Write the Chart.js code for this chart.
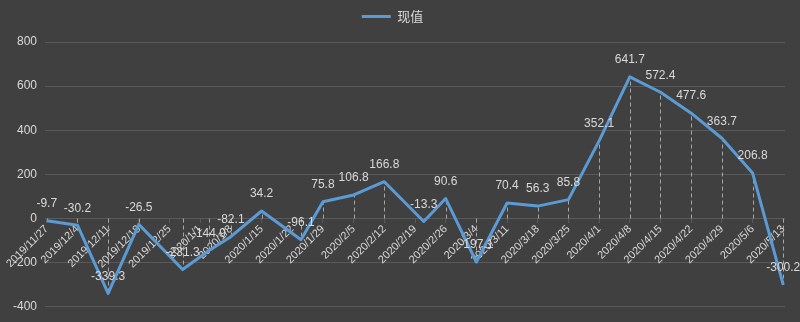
<!DOCTYPE html>
<html>
<head>
<meta charset="utf-8">
<script src="https://cdn.jsdelivr.net/npm/chart.js@4.4.0/dist/chart.umd.min.js"></script>
<style>
  html, body { margin: 0; padding: 0; background: #404040; }
  #wrap { width: 800px; height: 322px; }
</style>
</head>
<body>
<div id="wrap"><canvas id="value-chart"></canvas></div>
<script>
// 现值 weekly series, some points fall between the weekly ticks
const seriesName = '现值';
const dates = [
  '2019/11/27', '2019/12/4', '2019/12/11', '2019/12/18', '2019/12/28',
  '2020/1/3', '2020/1/8', '2020/1/15', '2020/1/24', '2020/1/29',
  '2020/2/5', '2020/2/12', '2020/2/21', '2020/2/26', '2020/3/4',
  '2020/3/11', '2020/3/18', '2020/3/25', '2020/4/1', '2020/4/8',
  '2020/4/15', '2020/4/22', '2020/4/29', '2020/5/6', '2020/5/13'
];
const values = [
  -9.7, -30.2, -339.3, -26.5, -231.3,
  -144.9, -82.1, 34.2, -96.1, 75.8,
  106.8, 166.8, -13.3, 90.6, -197.1,
  70.4, 56.3, 85.8, 352.1, 641.7,
  572.4, 477.6, 363.7, 206.8, -300.2
];
const tickLabels = [
  '2019/11/27', '2019/12/4', '2019/12/11', '2019/12/18', '2019/12/25',
  '2020/1/1', '2020/1/8', '2020/1/15', '2020/1/22', '2020/1/29',
  '2020/2/5', '2020/2/12', '2020/2/19', '2020/2/26', '2020/3/4',
  '2020/3/11', '2020/3/18', '2020/3/25', '2020/4/1', '2020/4/8',
  '2020/4/15', '2020/4/22', '2020/4/29', '2020/5/6', '2020/5/13'
];

const lineColor = '#5b9bd5';
const textColor = '#d9d9d9';
const gridColor = '#595959';

// days since the first tick date
function dayOf(s) {
  const p = s.split('/').map(Number);
  const p0 = tickLabels[0].split('/').map(Number);
  return (Date.UTC(p[0], p[1] - 1, p[2]) - Date.UTC(p0[0], p0[1] - 1, p0[2])) / 86400000;
}
const points = dates.map((d, i) => ({ x: dayOf(d), y: values[i] }));
const lastDay = dayOf(tickLabels[tickLabels.length - 1]);

// dashed drop lines to zero + value labels above each point
const valueLabels = {
  id: 'valueLabels',
  beforeDatasetsDraw(chart) {
    const ctx = chart.ctx;
    const zero = chart.scales.y.getPixelForValue(0);
    ctx.save();
    ctx.strokeStyle = '#a6a6a6';
    ctx.lineWidth = 1;
    ctx.setLineDash([4, 3]);
    chart.getDatasetMeta(0).data.forEach(p => {
      ctx.beginPath();
      ctx.moveTo(Math.round(p.x) + 0.5, zero);
      ctx.lineTo(Math.round(p.x) + 0.5, p.y);
      ctx.stroke();
    });
    ctx.restore();
  },
  afterDatasetsDraw(chart) {
    const ctx = chart.ctx;
    ctx.save();
    ctx.font = '12px "Liberation Sans", sans-serif';
    ctx.fillStyle = textColor;
    ctx.textAlign = 'center';
    ctx.textBaseline = 'middle';
    chart.getDatasetMeta(0).data.forEach((p, i) => {
      ctx.fillText(values[i].toFixed(1), p.x, p.y - 17);
    });
    ctx.restore();
  }
};

const ctx = document.getElementById('value-chart').getContext('2d');
new Chart(ctx, {
  type: 'line',
  data: {
    datasets: [{
      label: seriesName,
      data: points,
      borderColor: lineColor,
      backgroundColor: lineColor,
      borderWidth: 3,
      pointRadius: 0,
      borderJoinStyle: 'round',
      tension: 0
    }]
  },
  options: {
    responsive: true,
    maintainAspectRatio: false,
    animation: false,
    layout: { padding: { left: 0, right: 15, top: 0, bottom: 14 } },
    plugins: {
      legend: {
        display: true,
        position: 'top',
        labels: {
          color: textColor,
          font: { size: 13, family: '"Noto Sans CJK SC", sans-serif' },
          usePointStyle: true,
          pointStyle: 'line',
          pointStyleWidth: 29,
          padding: 10
        }
      },
      tooltip: { enabled: false }
    },
    scales: {
      x: {
        type: 'linear',
        position: { y: 0 },
        min: -0.4,
        max: lastDay + 0.4,
        afterBuildTicks(scale) {
          scale.ticks = tickLabels.map(t => ({ value: dayOf(t) }));
        },
        afterFit(scale) {
          scale.height = 0;
          scale.paddingLeft = 0;
          scale.paddingRight = 0;
        },
        grid: { drawOnChartArea: false, color: gridColor, tickLength: 4 },
        border: { display: false },
        ticks: {
          color: textColor,
          font: { size: 11, family: '"Liberation Sans", sans-serif' },
          minRotation: 45,
          maxRotation: 45,
          autoSkip: false,
          padding: 0,
          callback: (v) => tickLabels.find(t => dayOf(t) === v) || ''
        }
      },
      // empty band between legend and plot
      gap: {
        type: 'linear',
        axis: 'x',
        position: 'top',
        grid: { display: false },
        border: { display: false },
        ticks: { display: false },
        afterFit(scale) { scale.height = 9; }
      },
      y: {
        min: -400,
        max: 800,
        afterFit(scale) { scale.width = 45; },
        grid: { color: gridColor, drawTicks: false },
        border: { display: false },
        ticks: {
          stepSize: 200,
          color: textColor,
          padding: 8,
          font: { size: 12, family: '"Liberation Sans", sans-serif' }
        }
      }
    }
  },
  plugins: [valueLabels]
});
</script>
</body>
</html>
